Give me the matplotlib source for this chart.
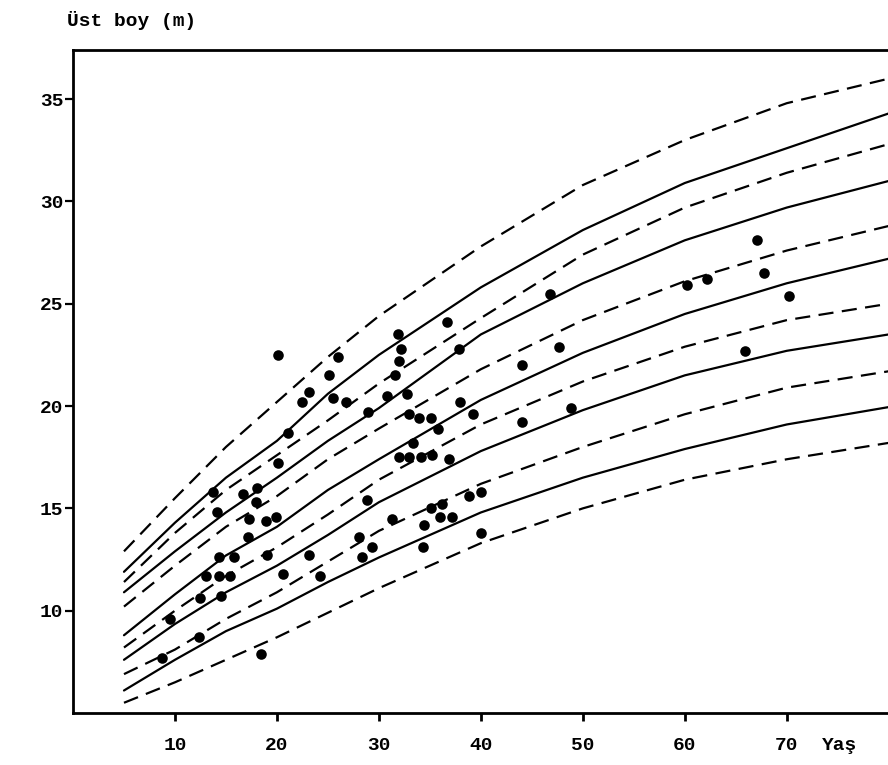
import matplotlib
matplotlib.use("Agg")
import matplotlib.pyplot as plt
import numpy as np

# ---- data ----
curve_ages = [5, 10, 15, 20, 25, 30, 40, 50, 60, 70, 80]
# curves listed from top to bottom; styles alternate dashed / solid
curve_styles = ["dashed", "solid", "dashed", "solid", "dashed", "solid",
                "dashed", "solid", "dashed", "solid", "dashed"]
c0 = [12.9, 15.5, 18.0, 20.2, 22.4, 24.4, 27.8, 30.8, 33.0, 34.8, 36.0]
c1 = [11.9, 14.3, 16.5, 18.3, 20.6, 22.5, 25.8, 28.6, 30.9, 32.6, 34.3]
c2 = [11.4, 13.8, 15.9, 17.6, 19.3, 21.1, 24.3, 27.4, 29.7, 31.4, 32.8]
c3 = [10.9, 12.9, 14.8, 16.5, 18.3, 19.9, 23.5, 26.0, 28.1, 29.7, 31.0]
c4 = [10.2, 12.2, 14.1, 15.6, 17.4, 18.9, 21.8, 24.2, 26.1, 27.6, 28.8]
c5 = [8.8, 10.8, 12.7, 14.1, 15.9, 17.4, 20.3, 22.6, 24.5, 26.0, 27.2]
c6 = [8.2, 10.0, 11.7, 13.1, 14.7, 16.4, 19.1, 21.2, 22.9, 24.2, 25.0]
c7 = [7.6, 9.35, 10.9, 12.2, 13.7, 15.3, 17.8, 19.8, 21.5, 22.7, 23.5]
c8 = [6.9, 8.1, 9.6, 10.9, 12.4, 13.9, 16.2, 18.0, 19.6, 20.9, 21.7]
c9 = [6.1, 7.6, 9.0, 10.1, 11.4, 12.6, 14.8, 16.5, 17.9, 19.1, 19.95]
c10 = [5.5, 6.5, 7.6, 8.7, 9.9, 11.1, 13.3, 15.0, 16.4, 17.4, 18.2]
curves = [c0, c1, c2, c3, c4, c5, c6, c7, c8, c9, c10]

point_age = [20.1, 26.0, 25.1, 23.1, 22.5, 25.5, 26.8, 21.1, 20.1, 13.7,
             16.7, 18.0, 17.9, 14.1, 17.3, 18.9, 19.9, 17.2, 14.3, 15.8,
             19.0, 23.1, 13.0, 14.3, 15.4, 20.6, 24.2, 12.5, 14.5, 9.5,
             12.4, 8.7, 18.4, 36.7, 31.9, 32.2, 37.9, 32.0, 31.6, 30.8,
             32.8, 28.9, 38.0, 33.0, 33.9, 35.1, 35.8, 39.2, 33.3, 32.0,
             33.0, 34.1, 35.2, 36.9, 28.8, 38.8, 40.0, 35.1, 36.2, 31.3,
             36.0, 37.2, 34.4, 28.0, 29.3, 28.3, 34.3, 40.0, 47.7, 44.0,
             48.8, 44.0, 46.8, 60.2, 62.2, 65.9, 67.1, 67.8, 70.2]
point_height = [22.5, 22.4, 21.5, 20.7, 20.2, 20.4, 20.2, 18.7, 17.2, 15.8,
                15.7, 16.0, 15.3, 14.8, 14.5, 14.4, 14.6, 13.6, 12.6, 12.6,
                12.7, 12.7, 11.7, 11.7, 11.7, 11.8, 11.7, 10.6, 10.7, 9.6,
                8.7, 7.7, 7.9, 24.1, 23.5, 22.8, 22.8, 22.2, 21.5, 20.5,
                20.6, 19.7, 20.2, 19.6, 19.4, 19.4, 18.9, 19.6, 18.2, 17.5,
                17.5, 17.5, 17.6, 17.4, 15.4, 15.6, 15.8, 15.0, 15.2, 14.5,
                14.6, 14.6, 14.2, 13.6, 13.1, 12.6, 13.1, 13.8, 22.9, 22.0,
                19.9, 19.2, 25.5, 25.9, 26.2, 22.7, 28.1, 26.5, 25.4]

x_ticks = [10, 20, 30, 40, 50, 60, 70]
x_tick_labels = ["10", "20", "30", "40", "50", "60", "70"]
y_ticks = [10, 15, 20, 25, 30, 35]
y_tick_labels = ["10", "15", "20", "25", "30", "35"]
y_label = "Üst boy (m)"
x_label = "Yaş"

# ---- drawing ----
FONT = ["Liberation Mono", "DejaVu Sans Mono"]
W, H = 888, 765
fig = plt.figure(figsize=(W / 100, H / 100), dpi=100)
ax = fig.add_axes([73 / W, 1 - 713 / H, 1 - 73 / W + 0.01, (713 - 50) / H])
ax.set_xlim(0, 80.8)
ax.set_ylim(5.0, 37.4)

for vals, style in zip(curves, curve_styles):
    line, = ax.plot(curve_ages, vals, color="black", lw=1.6,
                    solid_capstyle="round", solid_joinstyle="round")
    if style == "dashed":
        line.set_dashes((6.8, 3.8))
        line.set_dash_capstyle("butt")

ax.scatter(point_age, point_height, s=58, color="black", zorder=3,
           linewidths=0)

for side in ["top", "left", "bottom"]:
    ax.spines[side].set_linewidth(2.0)
    ax.spines[side].set_color("black")
ax.spines["right"].set_visible(False)

ax.set_xticks(x_ticks)
ax.set_xticklabels(x_tick_labels)
ax.set_yticks(y_ticks)
ax.set_yticklabels(y_tick_labels)
ax.tick_params(axis="x", direction="out", length=6, width=2.0, pad=11,
               labelsize=14)
ax.tick_params(axis="y", direction="out", length=6, width=1.6, pad=1,
               labelsize=14)
for lab in ax.get_xticklabels() + ax.get_yticklabels():
    lab.set_family(FONT)
    lab.set_fontweight("bold")

fig.text(67 / W, 1 - 20 / H, y_label, family=FONT, fontweight="bold",
         fontsize=14, ha="left", va="center")
fig.text(822 / W, 1 - 745 / H, x_label, family=FONT, fontweight="bold",
         fontsize=14, ha="left", va="center")

fig.savefig("out.png", dpi=100, facecolor="white")
